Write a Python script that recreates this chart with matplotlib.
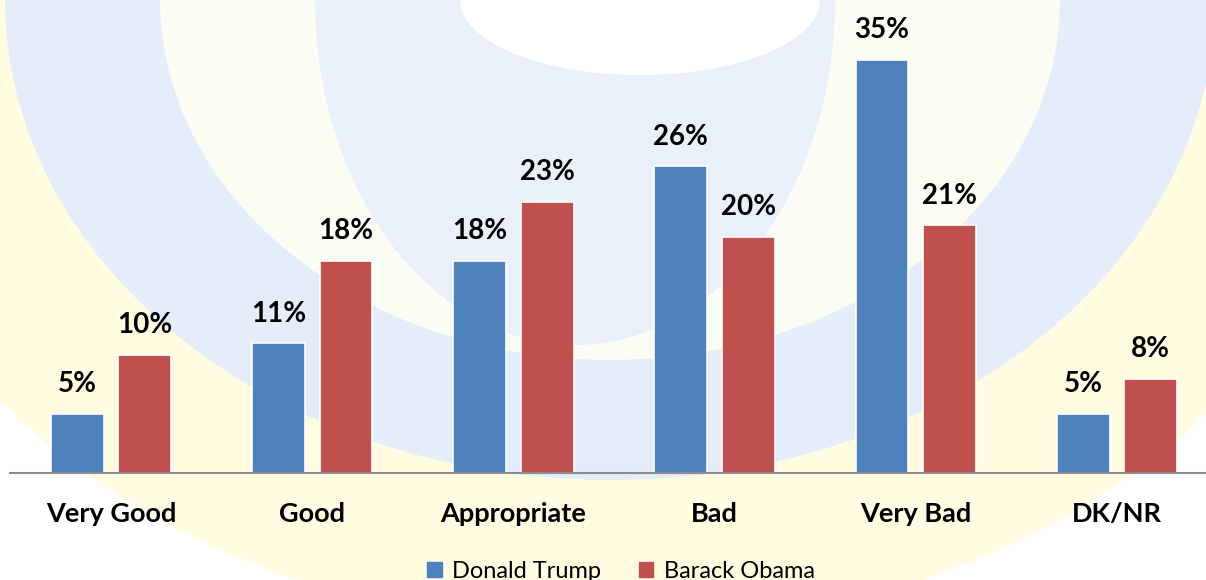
import numpy as np
import matplotlib
matplotlib.use("Agg")
import matplotlib.pyplot as plt
from matplotlib.patches import Ellipse, Patch

categories = ["Very Good", "Good", "Appropriate", "Bad", "Very Bad", "DK/NR"]
trump = [5, 11, 18, 26, 35, 5]
obama = [10, 18, 23, 20, 21, 8]
series_names = ["Donald Trump", "Barack Obama"]

blue = "#4F81BD"
red = "#C0504D"

plt.rcParams["font.family"] = ["Lato", "DejaVu Sans"]

fig = plt.figure(figsize=(12.06, 5.8), dpi=100)
fig.patch.set_facecolor("white")

# faint logo watermark behind the chart (pixel coords, y down)
bg = fig.add_axes([0, 0, 1, 1], zorder=0)
bg.set_xlim(0, 1206)
bg.set_ylim(580, 0)
bg.axis("off")
bg.add_patch(Ellipse((610, 80), 1500, 1100, color="#FFFBD6", alpha=0.7, lw=0))
bg.add_patch(Ellipse((610, 0), 1210, 960, color="#E4EDF9", lw=0))
bg.add_patch(Ellipse((610, 0), 900, 720, color="#FBFCF4", lw=0))
bg.add_patch(Ellipse((575, 0), 520, 690, color="#E9F0FA", lw=0))
bg.add_patch(Ellipse((640, 0), 360, 150, color="white", lw=0))

ax = fig.add_axes([0, 1 - 473 / 580, 1, 473 / 580], zorder=1)
ax.patch.set_alpha(0)

x = np.arange(len(categories))
w = 0.262
off = 0.168
b1 = ax.bar(x - off, trump, w, color=blue, edgecolor="white", linewidth=1.2, label=series_names[0])
b2 = ax.bar(x + off, obama, w, color=red, edgecolor="white", linewidth=1.2, label=series_names[1])

for bars, vals in ((b1, trump), (b2, obama)):
    for rect, v in zip(bars, vals):
        ax.annotate(f"{v}%", (rect.get_x() + rect.get_width() / 2, rect.get_height()),
                    xytext=(0, 12), textcoords="offset points", ha="center", va="bottom",
                    fontsize=20, fontweight="bold", color="black")

# category centres at ~111 px spaced ~201 px
ax.set_xlim(-111 / 201.2, (1206 - 111) / 201.2)
ax.set_ylim(0, 40.1)
ax.set_xticks(x)
ax.set_xticklabels(categories, fontsize=19.5, fontweight="bold")
ax.tick_params(axis="x", length=0, pad=21)
ax.set_yticks([])
for s in ["top", "right", "left"]:
    ax.spines[s].set_visible(False)
ax.spines["bottom"].set_color("#8C8C8C")
ax.spines["bottom"].set_linewidth(1.5)
ax.spines["bottom"].set_bounds(-101 / 201.2, (1206 - 111) / 201.2)

handles = [Patch(color=blue), Patch(color=red)]
fig.legend(handles, series_names, loc="center", bbox_to_anchor=(0.515, 1 - 571 / 580),
           ncol=2, frameon=False, fontsize=17, handlelength=0.6, handleheight=0.6,
           handletextpad=0.45, columnspacing=1.6)

fig.savefig("out.png", dpi=100, facecolor="white")
